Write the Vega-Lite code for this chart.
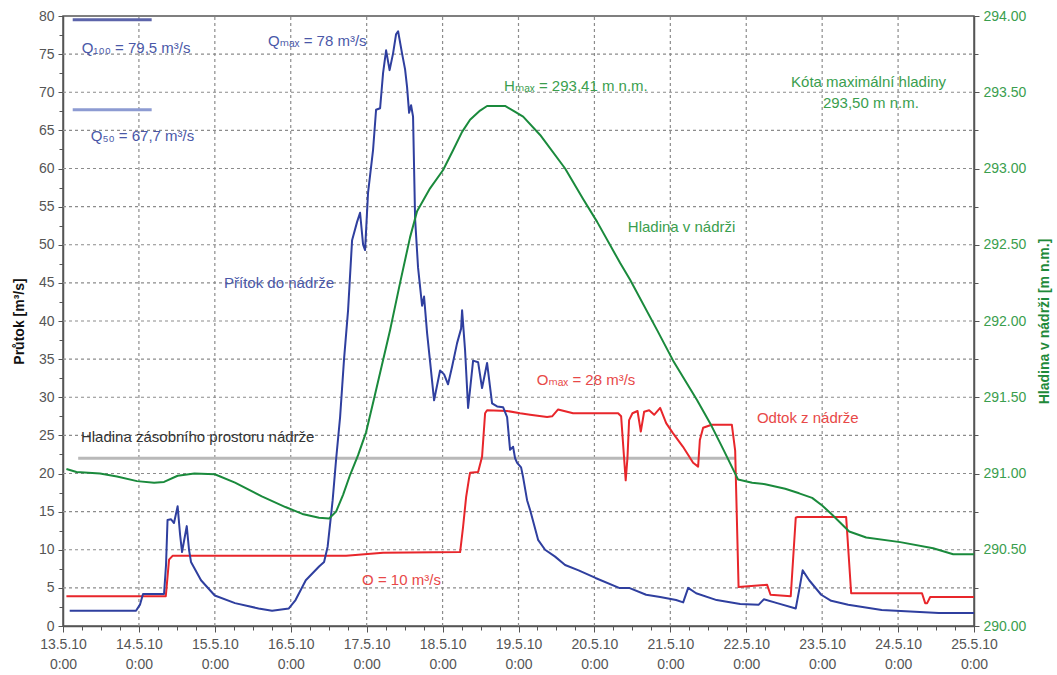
{
  "$schema": "https://vega.github.io/schema/vega-lite/v6.json",
  "width": 911,
  "height": 610,
  "autosize": {"type": "none"},
  "padding": {"left": 63, "top": 16, "right": 83, "bottom": 49},
  "background": "white",
  "config": {
    "font": "Liberation Sans, Arial, DejaVu Sans, sans-serif",
    "view": {"stroke": "#555555", "strokeWidth": 1.5},
    "axis": {"labelFont": "Liberation Sans, Arial, DejaVu Sans, sans-serif", "titleFont": "Liberation Sans, Arial, DejaVu Sans, sans-serif"}
  },
  "datasets": {
    "inflow": [
      {"d": 0.088, "q": 2.0}, {"d": 0.962, "q": 2.0}, {"d": 1.014, "q": 2.8}, {"d": 1.054, "q": 4.2}, {"d": 1.331, "q": 4.2},
      {"d": 1.357, "q": 8.0}, {"d": 1.377, "q": 13.9}, {"d": 1.423, "q": 14.0}, {"d": 1.462, "q": 13.5}, {"d": 1.51, "q": 15.7},
      {"d": 1.542, "q": 12.0}, {"d": 1.568, "q": 9.7}, {"d": 1.63, "q": 13.1}, {"d": 1.66, "q": 10.0}, {"d": 1.686, "q": 8.4},
      {"d": 1.818, "q": 6.0}, {"d": 1.999, "q": 4.0}, {"d": 2.266, "q": 3.0}, {"d": 2.576, "q": 2.3}, {"d": 2.754, "q": 2.0},
      {"d": 2.975, "q": 2.3}, {"d": 3.063, "q": 3.4}, {"d": 3.198, "q": 6.0}, {"d": 3.373, "q": 7.8}, {"d": 3.439, "q": 8.4},
      {"d": 3.486, "q": 10.4}, {"d": 3.552, "q": 16.5}, {"d": 3.597, "q": 21.8}, {"d": 3.65, "q": 27.4}, {"d": 3.702, "q": 35.0},
      {"d": 3.755, "q": 41.4}, {"d": 3.808, "q": 50.6}, {"d": 3.874, "q": 53.0}, {"d": 3.913, "q": 54.2}, {"d": 3.953, "q": 50.0},
      {"d": 3.979, "q": 49.3}, {"d": 4.018, "q": 56.8}, {"d": 4.084, "q": 62.4}, {"d": 4.124, "q": 67.7}, {"d": 4.177, "q": 67.9},
      {"d": 4.216, "q": 72.5}, {"d": 4.256, "q": 75.5}, {"d": 4.302, "q": 72.9}, {"d": 4.348, "q": 75.1}, {"d": 4.387, "q": 77.6},
      {"d": 4.414, "q": 78.0}, {"d": 4.466, "q": 75.1}, {"d": 4.506, "q": 73.0}, {"d": 4.532, "q": 70.7}, {"d": 4.559, "q": 67.3},
      {"d": 4.585, "q": 68.3}, {"d": 4.611, "q": 66.8}, {"d": 4.638, "q": 53.4}, {"d": 4.677, "q": 47.0}, {"d": 4.73, "q": 42.0},
      {"d": 4.756, "q": 43.2}, {"d": 4.796, "q": 38.4}, {"d": 4.835, "q": 34.7}, {"d": 4.888, "q": 29.6}, {"d": 4.967, "q": 33.5},
      {"d": 5.02, "q": 33.0}, {"d": 5.072, "q": 31.7}, {"d": 5.125, "q": 34.0}, {"d": 5.191, "q": 37.1}, {"d": 5.244, "q": 39.0},
      {"d": 5.257, "q": 41.4}, {"d": 5.296, "q": 36.2}, {"d": 5.336, "q": 28.6}, {"d": 5.362, "q": 31.0}, {"d": 5.402, "q": 34.8},
      {"d": 5.468, "q": 34.6}, {"d": 5.52, "q": 31.2}, {"d": 5.586, "q": 34.5}, {"d": 5.652, "q": 29.2}, {"d": 5.718, "q": 28.8},
      {"d": 5.797, "q": 28.7}, {"d": 5.85, "q": 27.4}, {"d": 5.889, "q": 23.1}, {"d": 5.929, "q": 23.5}, {"d": 5.955, "q": 22.0},
      {"d": 5.982, "q": 21.4}, {"d": 6.034, "q": 20.8}, {"d": 6.061, "q": 19.5}, {"d": 6.113, "q": 16.5}, {"d": 6.153, "q": 15.2},
      {"d": 6.258, "q": 11.3}, {"d": 6.35, "q": 10.0}, {"d": 6.482, "q": 9.1}, {"d": 6.614, "q": 8.0}, {"d": 6.792, "q": 7.3},
      {"d": 7.014, "q": 6.3}, {"d": 7.325, "q": 5.0}, {"d": 7.457, "q": 5.0}, {"d": 7.681, "q": 4.1}, {"d": 7.866, "q": 3.8},
      {"d": 8.076, "q": 3.4}, {"d": 8.169, "q": 3.1}, {"d": 8.235, "q": 5.0}, {"d": 8.34, "q": 4.3}, {"d": 8.61, "q": 3.4},
      {"d": 8.92, "q": 2.9}, {"d": 9.165, "q": 2.8}, {"d": 9.231, "q": 3.5}, {"d": 9.407, "q": 3.0}, {"d": 9.652, "q": 2.3},
      {"d": 9.697, "q": 4.7}, {"d": 9.743, "q": 7.3}, {"d": 9.829, "q": 6.0}, {"d": 9.987, "q": 4.1}, {"d": 10.119, "q": 3.3},
      {"d": 10.343, "q": 2.8}, {"d": 10.784, "q": 2.1}, {"d": 11.537, "q": 1.7}, {"d": 12.0, "q": 1.7}
    ],
    "outflow": [
      {"d": 0.045, "q": 3.9}, {"d": 1.354, "q": 3.9}, {"d": 1.397, "q": 8.7}, {"d": 1.443, "q": 9.2}, {"d": 3.729, "q": 9.2},
      {"d": 4.216, "q": 9.6}, {"d": 5.231, "q": 9.7}, {"d": 5.27, "q": 13.0}, {"d": 5.31, "q": 16.9}, {"d": 5.349, "q": 19.4},
      {"d": 5.362, "q": 20.1}, {"d": 5.468, "q": 20.2}, {"d": 5.52, "q": 22.2}, {"d": 5.56, "q": 27.9}, {"d": 5.586, "q": 28.3},
      {"d": 5.85, "q": 28.2}, {"d": 6.021, "q": 27.9}, {"d": 6.153, "q": 27.7}, {"d": 6.377, "q": 27.4}, {"d": 6.443, "q": 27.5},
      {"d": 6.522, "q": 28.4}, {"d": 6.719, "q": 27.9}, {"d": 7.075, "q": 27.9}, {"d": 7.312, "q": 27.9}, {"d": 7.352, "q": 27.5},
      {"d": 7.391, "q": 22.0}, {"d": 7.412, "q": 19.1}, {"d": 7.435, "q": 22.0}, {"d": 7.457, "q": 27.0}, {"d": 7.501, "q": 27.9},
      {"d": 7.568, "q": 28.2}, {"d": 7.611, "q": 25.5}, {"d": 7.655, "q": 28.1}, {"d": 7.721, "q": 28.3}, {"d": 7.787, "q": 27.7},
      {"d": 7.866, "q": 28.6}, {"d": 7.945, "q": 26.6}, {"d": 8.034, "q": 25.3}, {"d": 8.167, "q": 23.5}, {"d": 8.3, "q": 21.4},
      {"d": 8.366, "q": 20.9}, {"d": 8.389, "q": 24.4}, {"d": 8.432, "q": 26.0}, {"d": 8.544, "q": 26.4}, {"d": 8.81, "q": 26.4},
      {"d": 8.854, "q": 23.0}, {"d": 8.899, "q": 5.1}, {"d": 9.275, "q": 5.4}, {"d": 9.32, "q": 4.1}, {"d": 9.586, "q": 3.9},
      {"d": 9.652, "q": 14.2}, {"d": 9.675, "q": 14.3}, {"d": 10.316, "q": 14.3}, {"d": 10.382, "q": 4.3}, {"d": 11.315, "q": 4.3},
      {"d": 11.357, "q": 3.0}, {"d": 11.383, "q": 3.0}, {"d": 11.423, "q": 3.8}, {"d": 12.0, "q": 3.8}
    ],
    "level": [
      {"d": 0.045, "h": 291.03}, {"d": 0.178, "h": 291.01}, {"d": 0.487, "h": 291.0}, {"d": 0.711, "h": 290.98}, {"d": 0.975, "h": 290.95},
      {"d": 1.2, "h": 290.94}, {"d": 1.331, "h": 290.945}, {"d": 1.51, "h": 290.985}, {"d": 1.731, "h": 291.0}, {"d": 1.999, "h": 290.995}, {"d": 2.266, "h": 290.94},
      {"d": 2.619, "h": 290.85}, {"d": 2.93, "h": 290.78}, {"d": 3.153, "h": 290.735}, {"d": 3.373, "h": 290.71}, {"d": 3.505, "h": 290.705},
      {"d": 3.597, "h": 290.75}, {"d": 3.689, "h": 290.86}, {"d": 3.781, "h": 290.99}, {"d": 3.887, "h": 291.12}, {"d": 3.992, "h": 291.27},
      {"d": 4.111, "h": 291.52}, {"d": 4.308, "h": 291.94}, {"d": 4.44, "h": 292.25}, {"d": 4.572, "h": 292.55}, {"d": 4.664, "h": 292.72},
      {"d": 4.835, "h": 292.87}, {"d": 5.007, "h": 292.99}, {"d": 5.138, "h": 293.12}, {"d": 5.257, "h": 293.24}, {"d": 5.362, "h": 293.32},
      {"d": 5.494, "h": 293.38}, {"d": 5.586, "h": 293.41}, {"d": 5.823, "h": 293.41}, {"d": 5.929, "h": 293.38}, {"d": 6.061, "h": 293.34},
      {"d": 6.285, "h": 293.22}, {"d": 6.614, "h": 293.0}, {"d": 6.851, "h": 292.8}, {"d": 7.036, "h": 292.65}, {"d": 7.339, "h": 292.38},
      {"d": 7.47, "h": 292.27}, {"d": 7.826, "h": 291.94}, {"d": 8.037, "h": 291.74}, {"d": 8.353, "h": 291.48}, {"d": 8.524, "h": 291.33},
      {"d": 8.696, "h": 291.16}, {"d": 8.893, "h": 290.96}, {"d": 9.078, "h": 290.94}, {"d": 9.249, "h": 290.93}, {"d": 9.513, "h": 290.9},
      {"d": 9.697, "h": 290.87}, {"d": 9.868, "h": 290.84}, {"d": 10.0, "h": 290.79}, {"d": 10.132, "h": 290.73}, {"d": 10.356, "h": 290.62},
      {"d": 10.58, "h": 290.58}, {"d": 11.028, "h": 290.55}, {"d": 11.462, "h": 290.51}, {"d": 11.726, "h": 290.47}, {"d": 12.0, "h": 290.47}
    ],
    "vgrid": [
      {"d": 1, "q": 0, "q2": 80}, {"d": 2, "q": 0, "q2": 80}, {"d": 3, "q": 0, "q2": 80}, {"d": 4, "q": 0, "q2": 80},
      {"d": 5, "q": 0, "q2": 80}, {"d": 6, "q": 0, "q2": 80}, {"d": 7, "q": 0, "q2": 80}, {"d": 8, "q": 0, "q2": 80},
      {"d": 9, "q": 0, "q2": 80}, {"d": 10, "q": 0, "q2": 80}, {"d": 11, "q": 0, "q2": 80}
    ],
    "hgrid": [
      {"d": 0, "d2": 12, "q": 5}, {"d": 0, "d2": 12, "q": 10}, {"d": 0, "d2": 12, "q": 15}, {"d": 0, "d2": 12, "q": 20},
      {"d": 0, "d2": 12, "q": 25}, {"d": 0, "d2": 12, "q": 30}, {"d": 0, "d2": 12, "q": 35}, {"d": 0, "d2": 12, "q": 40},
      {"d": 0, "d2": 12, "q": 45}, {"d": 0, "d2": 12, "q": 50}, {"d": 0, "d2": 12, "q": 55}, {"d": 0, "d2": 12, "q": 60},
      {"d": 0, "d2": 12, "q": 65}, {"d": 0, "d2": 12, "q": 70}, {"d": 0, "d2": 12, "q": 75}
    ],
    "rules": [
      {"d": 0.128, "d2": 1.168, "q": 79.5, "kind": "q100"},
      {"d": 0.128, "d2": 1.168, "q": 67.7, "kind": "q50"},
      {"d": 0.2, "d2": 8.85, "q": 22, "kind": "storage"}
    ],
    "labels": [
      {"d": 0.246, "q": 75.8, "text": "Q₁₀₀ = 79,5 m³/s", "kind": "t_in"},
      {"d": 0.365, "q": 64.3, "text": "Q₅₀ = 67,7 m³/s", "kind": "t_in"},
      {"d": 2.7, "q": 76.7, "text": "Qₘₐₓ = 78 m³/s", "kind": "t_in"},
      {"d": 2.121, "q": 45.0, "text": "Přítok do nádrže", "kind": "t_in"},
      {"d": 5.81, "q": 70.8, "text": "Hₘₐₓ = 293,41 m n.m.", "kind": "t_lvl"},
      {"d": 9.59, "q": 71.3, "text": "Kóta maximální hladiny", "kind": "t_lvl"},
      {"d": 10.01, "q": 68.6, "text": "293,50 m n.m.", "kind": "t_lvl"},
      {"d": 7.44, "q": 52.3, "text": "Hladina v nádrži", "kind": "t_lvl"},
      {"d": 6.24, "q": 32.3, "text": "Oₘₐₓ = 28 m³/s", "kind": "t_out"},
      {"d": 9.14, "q": 27.3, "text": "Odtok z nádrže", "kind": "t_out"},
      {"d": 0.236, "q": 24.8, "text": "Hladina zásobního prostoru nádrže", "kind": "t_sto"},
      {"d": 3.94, "q": 6.0, "text": "O = 10 m³/s", "kind": "t_out"}
    ]
  },
  "encoding": {
    "x": {
      "field": "d",
      "type": "quantitative",
      "title": null,
      "scale": {"domain": [0, 12], "nice": false, "zero": false},
      "axis": {
        "title": null,
        "values": [0, 0.25, 0.5, 0.75, 1, 1.25, 1.5, 1.75, 2, 2.25, 2.5, 2.75, 3, 3.25, 3.5, 3.75, 4, 4.25, 4.5, 4.75, 5, 5.25, 5.5, 5.75, 6, 6.25, 6.5, 6.75, 7, 7.25, 7.5, 7.75, 8, 8.25, 8.5, 8.75, 9, 9.25, 9.5, 9.75, 10, 10.25, 10.5, 10.75, 11, 11.25, 11.5, 11.75, 12],
        "labelExpr": "datum.value % 1 == 0 ? [(13 + datum.value) + '.5.10', '0:00'] : ''",
        "labelFontSize": 14,
        "labelColor": "#555555",
        "labelLineHeight": 20,
        "labelPadding": 5,
        "labelFlush": false,
        "labelOverlap": false,
        "labelBound": false,
        "grid": false,
        "tickSize": {"condition": {"test": "datum.value % 1 == 0", "value": 6}, "value": 4},
        "tickColor": "#555555",
        "domainColor": "#555555",
        "domainWidth": 1.5
      }
    }
  },
  "layer": [
    {
      "encoding": {
        "y": {
          "field": "q",
          "type": "quantitative",
          "title": null,
          "scale": {"domain": [0, 80], "nice": false},
          "axis": {
            "orient": "left",
            "title": "Průtok [m³/s]",
            "titleFontSize": 14,
            "titleFontWeight": "bold",
            "titleColor": "#111111",
            "titlePadding": 12,
            "values": [0, 2.5, 5, 7.5, 10, 12.5, 15, 17.5, 20, 22.5, 25, 27.5, 30, 32.5, 35, 37.5, 40, 42.5, 45, 47.5, 50, 52.5, 55, 57.5, 60, 62.5, 65, 67.5, 70, 72.5, 75, 77.5, 80],
            "labelExpr": "datum.value % 5 == 0 ? datum.label : ''",
            "labelFontSize": 14,
            "labelColor": "#555555",
            "labelPadding": 4,
            "labelFlush": false,
            "labelOverlap": false,
            "grid": false,
            "tickSize": {"condition": {"test": "datum.value % 5 == 0", "value": 5}, "value": 4},
            "tickColor": "#555555",
            "domainColor": "#555555",
            "domainWidth": 1.5
          }
        }
      },
      "layer": [
        {
          "data": {"name": "vgrid"},
          "mark": {"type": "rule", "color": "#8c8c8c", "strokeWidth": 1.2, "strokeDash": [3, 3]},
          "encoding": {"y2": {"field": "q2"}}
        },
        {
          "data": {"name": "hgrid"},
          "mark": {"type": "rule", "color": "#8c8c8c", "strokeWidth": 1.2, "strokeDash": [3, 3]},
          "encoding": {"x2": {"field": "d2"}}
        },
        {
          "data": {"name": "rules"},
          "mark": {"type": "rule", "strokeWidth": 3},
          "encoding": {
            "x2": {"field": "d2"},
            "color": {
              "field": "kind",
              "type": "nominal",
              "legend": null,
              "scale": {
                "domain": ["q100", "q50", "storage", "t_in", "t_out", "t_lvl", "t_sto"],
                "range": ["#5c64aa", "#8d9bd2", "#b9b9b9", "#4a58a8", "#e84848", "#3a9e4e", "#333333"]
              }
            }
          }
        },
        {
          "data": {"name": "outflow"},
          "mark": {"type": "line", "color": "#e8262b", "strokeWidth": 2, "strokeJoin": "round"},
          "encoding": {}
        },
        {
          "data": {"name": "inflow"},
          "mark": {"type": "line", "color": "#2f3f9f", "strokeWidth": 2, "strokeJoin": "round"},
          "encoding": {}
        },
        {
          "data": {"name": "labels"},
          "mark": {"type": "text", "align": "left", "baseline": "middle", "fontSize": 15},
          "encoding": {
            "text": {"field": "text"},
            "color": {
              "field": "kind",
              "type": "nominal",
              "legend": null,
              "scale": {
                "domain": ["q100", "q50", "storage", "t_in", "t_out", "t_lvl", "t_sto"],
                "range": ["#5c64aa", "#8d9bd2", "#b9b9b9", "#4a58a8", "#e84848", "#3a9e4e", "#333333"]
              }
            }
          }
        }
      ]
    },
    {
      "data": {"name": "level"},
      "mark": {"type": "line", "color": "#1a8a3c", "strokeWidth": 2, "strokeJoin": "round"},
      "encoding": {
        "y": {
          "field": "h",
          "type": "quantitative",
          "scale": {"domain": [290, 294], "nice": false, "zero": false},
          "axis": {
            "orient": "right",
            "title": "Hladina v nádrži [m n.m.]",
            "titleAngle": 270,
            "titleBaseline": "top",
            "titleFontSize": 14,
            "titleFontWeight": "bold",
            "titleColor": "#1f8a3a",
            "titlePadding": 12,
            "values": [290, 290.25, 290.5, 290.75, 291, 291.25, 291.5, 291.75, 292, 292.25, 292.5, 292.75, 293, 293.25, 293.5, 293.75, 294],
            "labelExpr": "datum.value % 0.5 == 0 ? format(datum.value, '.2f') : ''",
            "labelFontSize": 14,
            "labelColor": "#3a9e4e",
            "labelPadding": 4,
            "labelFlush": false,
            "labelOverlap": false,
            "grid": false,
            "tickSize": {"condition": {"test": "datum.value % 0.5 == 0", "value": 5}, "value": 4},
            "tickColor": "#555555",
            "domainColor": "#555555",
            "domainWidth": 1.5
          }
        }
      }
    }
  ],
  "resolve": {"scale": {"y": "independent"}}
}
